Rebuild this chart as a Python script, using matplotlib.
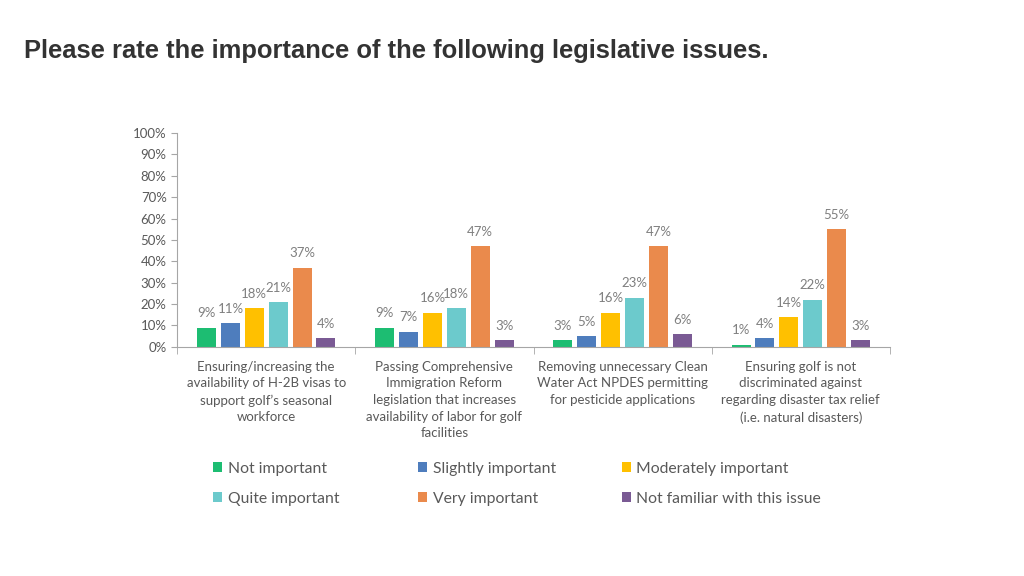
import matplotlib.pyplot as plt
import numpy as np
from matplotlib.ticker import FixedLocator, PercentFormatter

plt.rcParams["font.family"] = ["Lato", "DejaVu Sans"]

# --- Données ---
categories = [
    "Ensuring/increasing the\navailability of H-2B visas to\nsupport golf\u2019s seasonal\nworkforce",
    "Passing Comprehensive\nImmigration Reform\nlegislation that increases\navailability of labor for golf\nfacilities",
    "Removing unnecessary Clean\nWater Act NPDES permitting\nfor pesticide applications",
    "Ensuring golf is not\ndiscriminated against\nregarding disaster tax relief\n(i.e. natural disasters)",
]
series = [
    "Not important",
    "Slightly important",
    "Moderately important",
    "Quite important",
    "Very important",
    "Not familiar with this issue",
]
not_important = [9, 9, 3, 1]
slightly_important = [11, 7, 5, 4]
moderately_important = [18, 16, 16, 14]
quite_important = [21, 18, 23, 22]
very_important = [37, 47, 47, 55]
not_familiar = [4, 3, 6, 3]
valeurs = [not_important, slightly_important, moderately_important,
           quite_important, very_important, not_familiar]
couleurs = ["#1dbd72", "#4e7dbd", "#ffc000", "#6ccacc", "#ea8a4c", "#7a5a94"]

# --- Figure ---
fig = plt.figure(figsize=(10.24, 5.76), dpi=100)
ax = fig.add_axes([0.173, 0.398, 0.696, 0.371])

largeur = 0.107
pas = 0.134
x = np.arange(len(categories)) + 0.5
handles = []
for i, (nom, vals, coul) in enumerate(zip(series, valeurs, couleurs)):
    pos = x + (i - 2.5) * pas
    b = ax.bar(pos, vals, width=largeur, color=coul, label=nom)
    handles.append(b)
    for p, v in zip(pos, vals):
        ax.annotate(f"{v}%", (p, v), xytext=(0, 6), textcoords="offset points",
                    ha="center", va="bottom", fontsize=9.5, color="#7f7f7f")

ax.set_xlim(0, 4)
ax.set_ylim(0, 100)
ax.set_yticks(range(0, 101, 10))
ax.yaxis.set_major_formatter(PercentFormatter(decimals=0))
ax.set_xticks(x)
ax.set_xticklabels(categories, fontsize=9.5, color="#595959", linespacing=1.47)
ax.tick_params(axis="x", length=0, pad=10)
ax.xaxis.set_minor_locator(FixedLocator([0, 1, 2, 3, 4]))
ax.tick_params(axis="x", which="minor", length=5, color="#a6a6a6")
ax.tick_params(axis="y", length=4, color="#a6a6a6", labelsize=9.5, labelcolor="#595959")
for s in ["top", "right"]:
    ax.spines[s].set_visible(False)
for s in ["left", "bottom"]:
    ax.spines[s].set_color("#a6a6a6")

# Légende : trois colonnes de même largeur, comme dans l'original
colonnes_x = [0.208, 0.408, 0.607]
for c, cx in enumerate(colonnes_x):
    idx = [c, c + 3]
    fig.legend([handles[k] for k in idx], [series[k] for k in idx],
               loc="upper left", bbox_to_anchor=(cx, 0.198),
               frameon=False, fontsize=11.3, labelcolor="#595959", borderpad=0,
               borderaxespad=0, handlelength=0.6, handleheight=0.6,
               handletextpad=0.35, labelspacing=1.0)

fig.text(0.023, 0.912, "Please rate the importance of the following legislative issues.",
         fontsize=18.4, fontweight="bold", color="#333333", family="Liberation Sans",
         va="center")

fig.savefig("out.png", dpi=100)
